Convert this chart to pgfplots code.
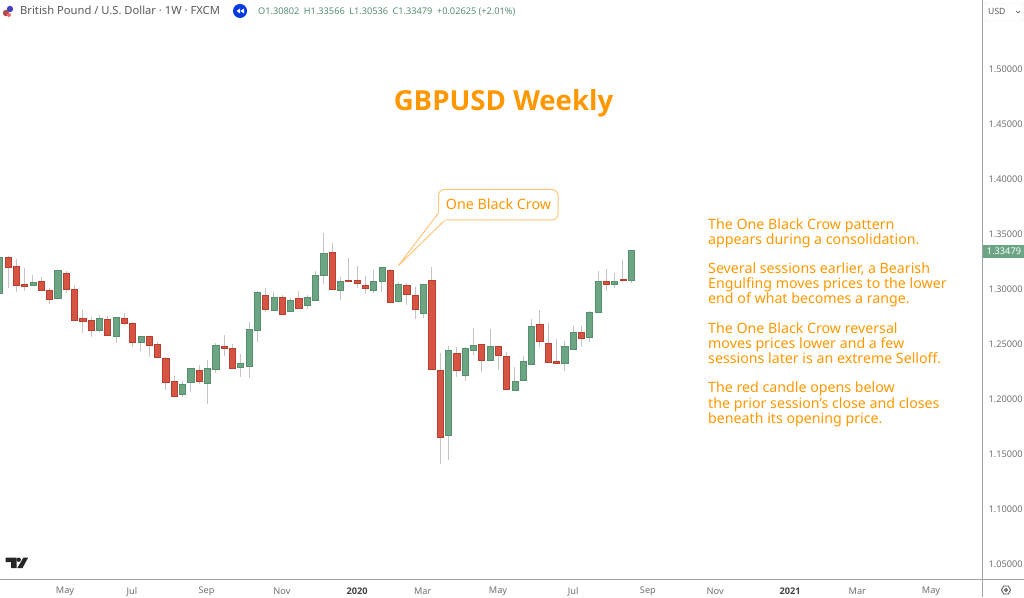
\documentclass[border=0pt]{standalone}
\usepackage{pgfplots}
\pgfplotsset{compat=1.18}
\usepackage{fontspec}
\setmainfont{Noto Sans}
\newfontfamily\boldf{Open Sans}
\definecolor{upc}{HTML}{6BA583}
\definecolor{upd}{HTML}{558F6E}
\definecolor{dnc}{HTML}{D75442}
\definecolor{dnd}{HTML}{B5402F}
\definecolor{wick}{HTML}{C4C4C4}
\definecolor{ora}{HTML}{FF9800}
\definecolor{orl}{HTML}{FFC67A}
\definecolor{axl}{HTML}{A3A3A3}
\definecolor{txg}{HTML}{707070}
% \G / \R {index}{high}{body top}{body bottom}{low}
\newcommand{\candle}[7]{%
  \pgfmathsetmacro\xa{#3-0.37}\pgfmathsetmacro\xb{#3+0.37}%
  \addplot[forget plot,draw=wick,line width=1pt] coordinates {(#3,#4) (#3,#7)};
  \addplot[forget plot,fill=#1,draw=#2,line width=0.7pt] coordinates {(\xa,#6) (\xb,#6) (\xb,#5) (\xa,#5)} -- cycle;
}
\newcommand{\G}{\candle{upc}{upd}}
\newcommand{\R}{\candle{dnc}{dnd}}
\begin{document}
\begin{tikzpicture}
\useasboundingbox (0,0) rectangle (1024pt,597pt);
\begin{axis}[
  at={(0pt,18pt)},anchor=south west,
  scale only axis,width=982pt,height=579pt,
  xmin=0.036,xmax=118.2,ymin=1.03636,ymax=1.56273,
  axis line style={draw=none},
  tick style={draw=none},
  yticklabel pos=right,
  ytick={1.05,1.10,1.15,1.20,1.25,1.30,1.35,1.40,1.45,1.50},
  yticklabels={1.05000,1.10000,1.15000,1.20000,1.25000,1.30000,1.35000,1.40000,1.45000,1.50000},
  yticklabel style={font=\fontsize{9.2}{10}\selectfont,text=txg,anchor=west,xshift=3pt,yshift=-0.5pt},
  xtick={7.86,15.92,24.9,33.97,43,50.9,59.96,69,78,86.1,95.1,103.2,112.07},
  xticklabels={May,Jul,Sep,Nov,{\boldf\bfseries\textcolor{black!75}{2020}},Mar,May,Jul,Sep,Nov,{\boldf\bfseries\textcolor{black!75}{2021}},Mar,May},
  xticklabel style={font=\fontsize{9.2}{10}\selectfont,text=txg,anchor=center,yshift=-12.5pt},
  clip=true,
]
\G{0}{1.3285}{1.3285}{1.2961}{1.2961}
\R{1}{1.3303}{1.3291}{1.3194}{1.3006}
\R{2}{1.3270}{1.3209}{1.3030}{1.2976}
\R{3}{1.3194}{1.3039}{1.3021}{1.2985}
\G{4}{1.3127}{1.3064}{1.3036}{1.3027}
\R{5}{1.3112}{1.3073}{1.2985}{1.2979}
\R{6}{1.3012}{1.2991}{1.2906}{1.2867}
\G{7}{1.3173}{1.3167}{1.2915}{1.2906}
\R{8}{1.3167}{1.3146}{1.2997}{1.2961}
\R{9}{1.3036}{1.3000}{1.2712}{1.2712}
\R{10}{1.2809}{1.2730}{1.2706}{1.2603}
\R{11}{1.2742}{1.2718}{1.2627}{1.2561}
\G{12}{1.2761}{1.2730}{1.2621}{1.2609}
\R{13}{1.2755}{1.2724}{1.2582}{1.2582}
\G{14}{1.2745}{1.2739}{1.2573}{1.2506}
\R{15}{1.2779}{1.2730}{1.2691}{1.2670}
\R{16}{1.2700}{1.2691}{1.2518}{1.2476}
\G{17}{1.2570}{1.2570}{1.2518}{1.2436}
\R{18}{1.2570}{1.2570}{1.2491}{1.2385}
\R{19}{1.2518}{1.2497}{1.2379}{1.2376}
\R{20}{1.2379}{1.2373}{1.2152}{1.2082}
\R{21}{1.2209}{1.2158}{1.2021}{1.2015}
\G{22}{1.2167}{1.2136}{1.2045}{1.2015}
\G{23}{1.2285}{1.2279}{1.2149}{1.2064}
\R{24}{1.2306}{1.2261}{1.2158}{1.2139}
\G{25}{1.2355}{1.2282}{1.2142}{1.1958}
\G{26}{1.2506}{1.2491}{1.2267}{1.2233}
\R{27}{1.2579}{1.2482}{1.2464}{1.2394}
\R{28}{1.2497}{1.2461}{1.2282}{1.2276}
\G{29}{1.2409}{1.2324}{1.2288}{1.2203}
\G{30}{1.2703}{1.2636}{1.2297}{1.2194}
\G{31}{1.2985}{1.2973}{1.2627}{1.2518}
\R{32}{1.3012}{1.2942}{1.2815}{1.2788}
\G{33}{1.2970}{1.2927}{1.2803}{1.2803}
\R{34}{1.2942}{1.2924}{1.2767}{1.2764}
\G{35}{1.2915}{1.2897}{1.2794}{1.2788}
\R{36}{1.2982}{1.2915}{1.2824}{1.2821}
\G{37}{1.2949}{1.2924}{1.2849}{1.2821}
\G{38}{1.3161}{1.3127}{1.2900}{1.2894}
\G{39}{1.3512}{1.3327}{1.3127}{1.3046}
\R{40}{1.3421}{1.3333}{1.2997}{1.2997}
\G{41}{1.3109}{1.3070}{1.2991}{1.2903}
\R{42}{1.3279}{1.3079}{1.3067}{1.3061}
\R{43}{1.3209}{1.3079}{1.3049}{1.3009}
\R{44}{1.3118}{1.3033}{1.3006}{1.2955}
\G{45}{1.3170}{1.3073}{1.2985}{1.2961}
\G{46}{1.3203}{1.3197}{1.3073}{1.2976}
\R{47}{1.3179}{1.3170}{1.2879}{1.2876}
\G{48}{1.3067}{1.3042}{1.2891}{1.2873}
\R{49}{1.3052}{1.3030}{1.2955}{1.2852}
\R{50}{1.3015}{1.2939}{1.2818}{1.2724}
\G{51}{1.3042}{1.3042}{1.2776}{1.2733}
\R{52}{1.3197}{1.3076}{1.2270}{1.2264}
\R{53}{1.2415}{1.2264}{1.1655}{1.1409}
\G{54}{1.2482}{1.2446}{1.1667}{1.1446}
\R{55}{1.2470}{1.2412}{1.2258}{1.2203}
\G{56}{1.2476}{1.2461}{1.2212}{1.2161}
\G{57}{1.2642}{1.2491}{1.2439}{1.2400}
\R{58}{1.2500}{1.2494}{1.2355}{1.2249}
\G{59}{1.2636}{1.2482}{1.2355}{1.2352}
\R{60}{1.2482}{1.2482}{1.2394}{1.2264}
\R{61}{1.2430}{1.2391}{1.2091}{1.2085}
\G{62}{1.2294}{1.2161}{1.2076}{1.2076}
\G{63}{1.2394}{1.2342}{1.2167}{1.2161}
\G{64}{1.2730}{1.2661}{1.2312}{1.2309}
\R{65}{1.2812}{1.2676}{1.2527}{1.2470}
\R{66}{1.2688}{1.2506}{1.2333}{1.2330}
\R{67}{1.2542}{1.2342}{1.2321}{1.2315}
\G{68}{1.2524}{1.2476}{1.2327}{1.2255}
\G{69}{1.2664}{1.2609}{1.2455}{1.2452}
\R{70}{1.2664}{1.2609}{1.2555}{1.2476}
\G{71}{1.2800}{1.2788}{1.2561}{1.2518}
\G{72}{1.3164}{1.3073}{1.2785}{1.2782}
\R{73}{1.3182}{1.3073}{1.3046}{1.2982}
\G{74}{1.3142}{1.3073}{1.3046}{1.3006}
\R{75}{1.3264}{1.3091}{1.3076}{1.3061}
\G{76}{1.33566}{1.33479}{1.30802}{1.30536}
\end{axis}
\begin{scope}[x=1pt,y=-1pt,yshift=597pt]
% axis rules
\draw[axl,line width=1pt] (0,579.3)--(1024,579.3);
\draw[axl,line width=1pt] (982.3,0)--(982.3,597);
% header
\fill[red!55!black!70] (6,13) circle (3.2);
\fill[blue!50!gray] (10,9) circle (3.2);
\fill[red!60!white] (9,15) circle (2);
\node[anchor=base west,inner sep=0,text=black!65,font=\fontsize{11.2}{12}\selectfont] at (20,15) {British Pound / U.S. Dollar · 1W · FXCM};
\fill[blue!75!cyan!90!black] (240,11) circle (7);
\fill[white] (240,8.5)--(236.5,11)--(240,13.5)--cycle;
\fill[white] (244,8.5)--(240.5,11)--(244,13.5)--cycle;
\node[anchor=base west,inner sep=0,text=upd,font=\fontsize{9.2}{10}\selectfont] at (258,15) {O1.30802\hspace{4.5pt}H1.33566\hspace{4.5pt}L1.30536\hspace{4.5pt}C1.33479\hspace{4.5pt}+0.02625 (+2.01\%)};
% currency button
\draw[black!25,densely dotted,rounded corners=2pt] (985,3) rectangle (1023,21);
\node[anchor=base west,inner sep=0,text=black!65,font=\fontsize{8.6}{10}\selectfont] at (988,15) {USD};
\draw[black!60,line width=0.7pt] (1016,11)--(1018,13)--(1020,11);
% last price tag
\fill[upc] (983,245) rectangle (1024,258);
\node[inner sep=0,text=white,font=\fontsize{9.2}{10}\selectfont] at (1004,251.5) {1.33479};
% logo
\fill[black!85] (5.5,557.5) rectangle (16.5,562) (11,557.5) rectangle (16.5,568);
\fill[black!85] (18.7,559.7) circle (2.2);
\fill[black!85] (23.5,557.5)--(28.2,557.5)--(22.5,568)--(17.3,568)--cycle;
% gear
\draw[black!70,line width=0.8pt] (1001.5,590)--(1003.7,586)--(1008.3,586)--(1010.5,590)--(1008.3,594)--(1003.7,594)--cycle;
\draw[black!70,line width=0.8pt] (1006,590) circle (1.5);
% title
\node[anchor=base,inner sep=0,text=ora,font=\boldf\bfseries\fontsize{27.6}{32}\selectfont] at (503.5,110.5) {GBPUSD Weekly};
% callout
\draw[orl,line width=1pt,fill=white,rounded corners=6pt] (438.5,189.5) rectangle (558,220);
\fill[white] (398,266)--(438.9,212)--(447,219)--cycle;
\fill[white] (439,205) rectangle (450,219.4);
\draw[orl,line width=1pt] (438.5,213)--(398,266)--(445,220);
\node[inner sep=0,text=ora,font=\fontsize{14.3}{16}\selectfont] at (498.5,204) {One Black Crow};
% notes
\foreach \yy/\tt in {
 230/{The One Black Crow pattern},
 245/{appears during a consolidation.},
 274/{Several sessions earlier, a Bearish},
 289/{Engulfing moves prices to the lower},
 304/{end of what becomes a range.},
 334/{The One Black Crow reversal},
 349/{moves prices lower and a few},
 364/{sessions later is an extreme Selloff.},
 393/{The red candle opens below},
 408/{the prior session's close and closes},
 423/{beneath its opening price.}}
 {\node[anchor=base west,inner sep=0,text=ora,font=\fontsize{14.2}{16}\selectfont] at (708,\yy) {\tt};}
\end{scope}
\end{tikzpicture}
\end{document}
